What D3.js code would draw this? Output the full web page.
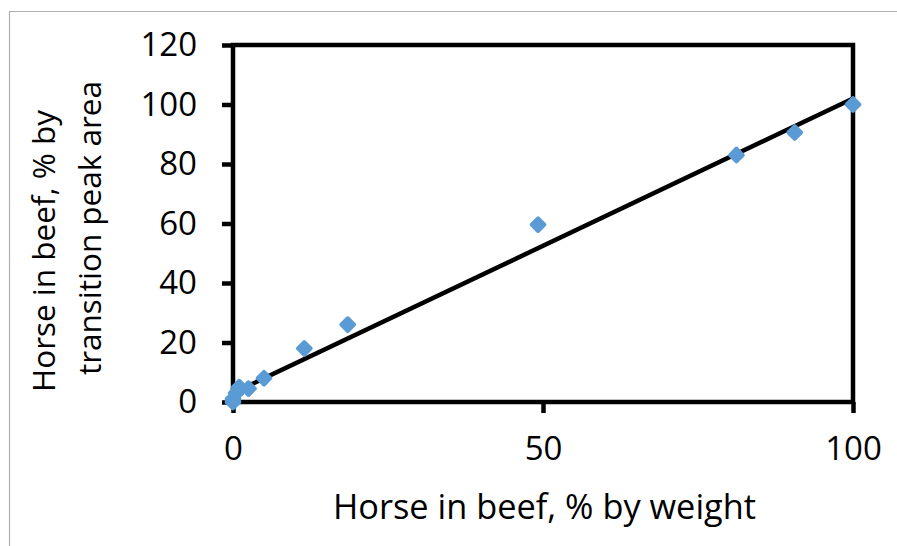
<!DOCTYPE html>
<html><head><meta charset="utf-8">
<script src="https://cdn.jsdelivr.net/npm/d3@7"></script>
<style>body{margin:0;background:#fff;} svg{display:block;}</style>
</head><body>
<svg id="c" width="897" height="546"></svg>
<script>
const xValues = [0, 0, 0.5, 1, 2.5, 5, 11.5, 18.5, 49.2, 81.2, 90.6, 100];
const yValues = [0, 1, 3, 5, 4.5, 8, 18, 26, 59.6, 83, 90.6, 100];
const trendX = [0, 100];
const trendY = [3, 102];
const xTicks = [0, 50, 100];
const yTicks = [0, 20, 40, 60, 80, 100, 120];
const xTitle = "Horse in beef, % by weight";
const yTitleLines = ["Horse in beef, % by", "transition peak area"];

const svg = d3.select("#c");
const font = "'Open Sans', sans-serif";
// outer border
svg.append("path").attr("d","M9.5,546 V11.5 H897").attr("fill","none").attr("stroke","#b0b0b0").attr("stroke-width",1.2);

const x = d3.scaleLinear().domain([0,100]).range([233,853]);
const y = d3.scaleLinear().domain([0,120]).range([402,45]);

const g = svg.append("g");
// frame
g.append("rect").attr("x",x(0)).attr("y",y(120)).attr("width",x(100)-x(0)).attr("height",y(0)-y(120))
  .attr("fill","none").attr("stroke","#000").attr("stroke-width",4.5);

const yAxis = d3.axisLeft(y).tickValues(yTicks).tickSize(11).tickPadding(25).tickFormat(d3.format("d"));
const ya = g.append("g").attr("transform",`translate(${x(0)},0)`).call(yAxis);
const xAxis = d3.axisBottom(x).tickValues(xTicks).tickSize(11).tickPadding(24).tickFormat(d3.format("d"));
const xa = g.append("g").attr("transform",`translate(0,${y(0)})`).call(xAxis);
[ya,xa].forEach(a=>{
  a.select(".domain").remove();
  a.selectAll(".tick line").attr("stroke","#000").attr("stroke-width",4.5);
  a.selectAll("text").attr("font-family",font).attr("font-size",33).attr("fill","#000");
});

// trendline
g.append("line").attr("x1",x(trendX[0])).attr("y1",y(trendY[0])).attr("x2",x(trendX[1])).attr("y2",y(trendY[1]))
  .attr("stroke","#000").attr("stroke-width",4.5);

// points (diamonds)
const pts = xValues.map((v,i)=>[v,yValues[i]]);
g.selectAll("rect.pt").data(pts).join("rect").attr("class","pt")
  .attr("x",-6.5).attr("y",-6.5).attr("width",13).attr("height",13).attr("rx",2)
  .attr("transform",d=>`translate(${x(d[0])},${y(d[1])}) rotate(45)`)
  .attr("fill","#5B9BD5");

// titles
function fit(t, w){ const L=t.node().getComputedTextLength(); const fs=+t.attr("font-size"); t.attr("font-size", fs*w/L); }
const xt = svg.append("text").attr("x",544.5).attr("y",519).attr("text-anchor","middle")
  .attr("font-family",font).attr("font-size",32).attr("fill","#000").text(xTitle);
fit(xt, 423);
const yt = svg.append("g");
const yl1 = yt.append("text").attr("transform","translate(55,251) rotate(-90)").attr("text-anchor","middle")
  .attr("font-family",font).attr("font-size",32).attr("fill","#000").text(yTitleLines[0]);
fit(yl1, 282);
const yl2 = yt.append("text").attr("transform","translate(101,228) rotate(-90)").attr("text-anchor","middle")
  .attr("font-family",font).attr("font-size",32).attr("fill","#000").text(yTitleLines[1]);
yl2.attr("font-size", yl1.attr("font-size"));
</script>
</body></html>
